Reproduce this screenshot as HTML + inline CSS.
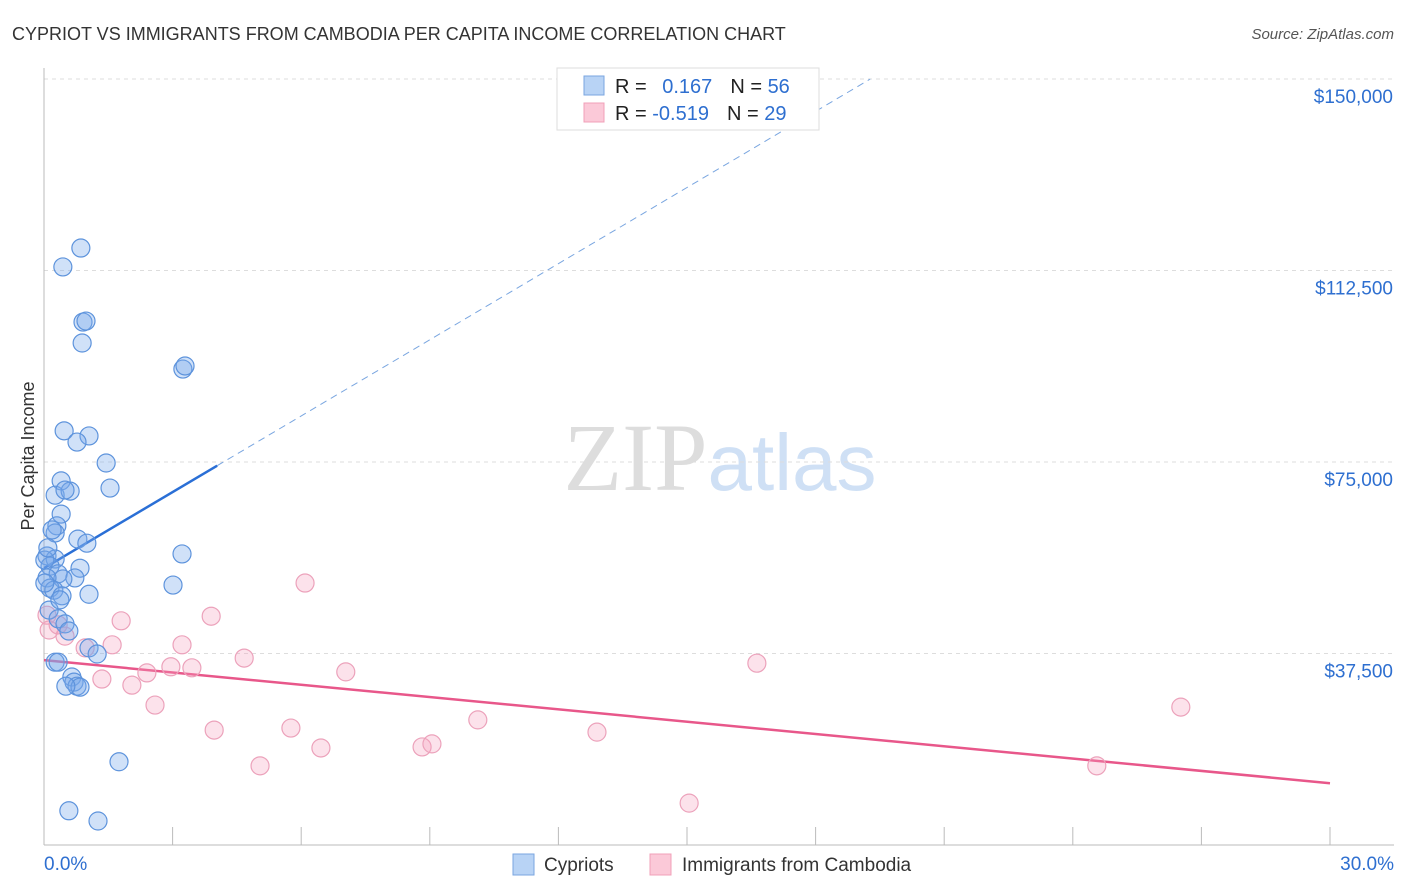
<!DOCTYPE html>
<html><head><meta charset="utf-8"><style>
body{margin:0;background:#fff;font-family:"Liberation Sans",sans-serif}
</style></head><body>
<svg id="chart" width="1406" height="892" xmlns="http://www.w3.org/2000/svg" style="display:block">
<text x="12" y="40" font-size="18" fill="#333">CYPRIOT VS IMMIGRANTS FROM CAMBODIA PER CAPITA INCOME CORRELATION CHART</text>
<text x="1394" y="39" font-size="15" fill="#555" text-anchor="end" font-style="italic">Source: ZipAtlas.com</text>
<text x="720" y="490" font-size="96" text-anchor="middle"><tspan fill="#ddd" font-family="Liberation Serif">ZIP</tspan><tspan fill="#cfe0f5" font-size="80">atlas</tspan></text>
<g id="grid"></g>
<g id="axes"></g>
<text transform="translate(34,456) rotate(-90)" font-size="18" fill="#333" text-anchor="middle">Per Capita Income</text>
<g id="lines"></g>
<g id="pts"></g>
<g>
<rect x="557" y="68" width="262" height="62" fill="#fff" stroke="#ddd"/>
<rect x="584" y="76" width="20" height="19" fill="#b8d3f5" stroke="#7aa6e0"/>
<rect x="584" y="103" width="20" height="19" fill="#fbc9d8" stroke="#f0a0b8"/>
<text x="615" y="93" font-size="20" fill="#222">R = <tspan fill="#2e6fd0" dx="10">0.167</tspan><tspan dx="18">N = </tspan><tspan fill="#2e6fd0">56</tspan></text>
<text x="615" y="120" font-size="20" fill="#222">R = <tspan fill="#2e6fd0">-0.519</tspan><tspan dx="18">N = </tspan><tspan fill="#2e6fd0">29</tspan></text>
</g>
<g>
<rect x="513" y="854" width="21" height="21" fill="#b8d3f5" stroke="#7aa6e0"/>
<text x="544" y="871" font-size="19" fill="#333">Cypriots</text>
<rect x="650" y="854" width="21" height="21" fill="#fbc9d8" stroke="#f0a0b8"/>
<text x="682" y="871" font-size="19" fill="#333">Immigrants from Cambodia</text>
</g>
</svg>
<script>
const yTicks=[37500,75000,112500,150000];
const yTickLabels=["$37,500","$75,000","$112,500","$150,000"];
const xTickLabels=["0.0%","30.0%"];
const blueX=[0.86,0.44,0.91,0.98,0.89,3.24,3.29,0.47,1.05,0.77,1.45,0.40,0.26,0.61,0.49,1.54,0.40,0.30,0.26,0.19,0.79,1.00,3.22,0.07,0.26,0.14,0.84,0.33,0.72,0.44,0.07,0.14,0.23,0.42,1.05,3.01,0.12,0.33,0.49,0.58,1.05,1.24,0.26,0.33,0.65,0.70,0.77,0.84,1.75,0.58,1.26,0.02,0.02,0.37,0.09,0.51];
const blueY=[116900,113200,102400,102600,98300,93200,93800,81100,80100,78900,74800,71300,68500,69300,69500,69900,64800,62500,61100,61700,59900,59100,57000,56600,56000,54600,54200,53100,52300,52100,52300,50300,49900,48800,49100,50900,46000,44300,43300,41900,38600,37400,35800,35800,32900,31900,31100,30900,16300,6700,4700,55800,51300,48000,58200,31100];
const pinkX=[0.07,0.12,0.33,0.49,0.96,1.59,1.80,1.35,2.05,2.59,2.40,2.96,3.45,3.22,3.90,3.97,4.67,5.04,5.76,6.09,6.46,7.04,8.82,9.05,10.12,12.90,15.05,16.63,24.56,26.52];
const pinkY=[45000,42100,43100,40900,38600,39200,43900,32500,31300,27400,33700,34900,34700,39200,44800,22500,36600,15500,22900,51300,19000,33900,19200,19800,24500,22100,8200,35600,15500,27000];
const blueTrend=[54200,4970];
const pinkTrend=[36200,-0.8033];
const NS="http://www.w3.org/2000/svg";
const X=v=>44+v/30*1286, Y=v=>845-v/150000*766;
function mk(t,a,p){const e=document.createElementNS(NS,t);for(const k in a)e.setAttribute(k,a[k]);p.appendChild(e);return e;}
const grid=document.getElementById('grid'),axes=document.getElementById('axes'),lines=document.getElementById('lines'),pts=document.getElementById('pts');
yTicks.forEach((t,i)=>{
 const l=mk('line',{x1:44,x2:1394,y1:Y(t),y2:Y(t),stroke:'#ddd','stroke-dasharray':'4,4'},grid);
 
 
 const tx=mk('text',{x:1393,y:Y(t)+24,'font-size':19,fill:'#2e6fd0','text-anchor':'end'},axes);
 tx.textContent=yTickLabels[i];
 
 
});
const ax=mk('line',{x1:44,x2:44,y1:68,y2:845,stroke:'#bbb'},axes);


const bx=mk('line',{x1:44,x2:1394,y1:845,y2:845,stroke:'#bbb'},axes);


for(let i=0;i<=10;i++){const t=mk('line',{x1:X(i*3),x2:X(i*3),y1:827,y2:845,stroke:'#bbb'},axes);
 
 }
[[0,'start',44],[30,'end',1394]].forEach((d,i)=>{const t=mk('text',{x:d[2],y:870,'font-size':19,fill:'#2e6fd0','text-anchor':d[1]},axes);t.textContent=xTickLabels[i];
 
 });
const bEnd=4.04, bDash=(150000-blueTrend[0])/blueTrend[1];
const l1=mk('line',{x1:X(0),y1:Y(blueTrend[0]),x2:X(bEnd),y2:Y(blueTrend[0]+blueTrend[1]*bEnd),stroke:'#2a6fd6','stroke-width':2.5},lines);


const l2=mk('line',{x1:X(bEnd),y1:Y(blueTrend[0]+blueTrend[1]*bEnd),x2:X(bDash),y2:Y(150000),stroke:'#7aa6e0','stroke-width':1,'stroke-dasharray':'7,5'},lines);


const l3=mk('line',{x1:X(0),y1:Y(pinkTrend[0]),x2:X(30),y2:Y(pinkTrend[0]+pinkTrend[1]*30*1000),stroke:'#e8578a','stroke-width':2.5},lines);


pinkX.forEach((x,i)=>{const c=mk('circle',{cx:X(x),cy:Y(pinkY[i]),r:9,fill:'rgba(244,160,188,0.3)',stroke:'#eca2bb','stroke-width':1.2},pts);
 
 });
blueX.forEach((x,i)=>{const c=mk('circle',{cx:X(x),cy:Y(blueY[i]),r:9,fill:'rgba(120,170,235,0.35)',stroke:'#5d93dc','stroke-width':1.2},pts);
 
 });
</script>
</body></html>
